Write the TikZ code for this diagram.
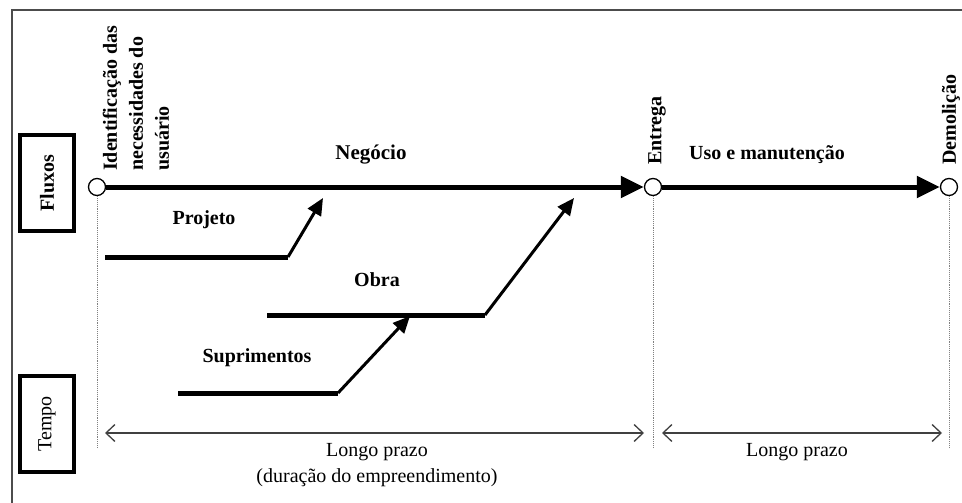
\documentclass[tikz,border=0pt]{standalone}
\usepackage{fontspec}
\setmainfont{Liberation Serif}
\usetikzlibrary{arrows.meta}

\tikzset{
  milestone/.style={circle, draw=black, line width=1.3pt, fill=white, minimum size=17pt, inner sep=0pt},
  mainflow/.style={line width=5pt, -{Triangle[length=23pt,width=21pt]}, shorten <=-0.5pt},
  flowbar/.style={line width=5pt},
  feeder/.style={line width=3pt, -{Triangle[length=17pt,width=15pt]}},
  guide/.style={gray, densely dotted, line width=0.9pt},
  span/.style={line width=1.3pt, black!75, {Straight Barb[length=9pt,width=17pt]}-{Straight Barb[length=9pt,width=17pt]}},
  sidebox/.style={draw=black, line width=3.5pt, rotate=90, minimum width=96pt, minimum height=54pt, inner sep=0pt},
  boldlabel/.style={font=\fontsize{20}{24}\selectfont\bfseries, inner sep=0pt},
  vlabel/.style={font=\fontsize{20}{26}\selectfont\bfseries, rotate=90, anchor=west, align=left, inner sep=0pt},
  plainlabel/.style={font=\fontsize{20}{26}\selectfont, align=center, inner sep=0pt}
}

\begin{document}
\begin{tikzpicture}[x=1pt, y=-1pt]
  \useasboundingbox (0,0) rectangle (962,503);

  % outer frame
  \draw[black!70, line width=2pt] (12,503) -- (12,10) -- (962,10);

  % side boxes
  \node[sidebox, font=\fontsize{20}{24}\selectfont\bfseries] (fluxos) at (47,183) {Fluxos};
  \node[sidebox, font=\fontsize{20}{24}\selectfont] (tempo) at (47,424) {Tempo};

  % milestones
  \node[milestone] (c1) at (97,187) {};
  \node[milestone] (c2) at (653,187) {};
  \node[milestone] (c3) at (949,187) {};

  % vertical guides
  \coordinate (g1) at (97,447);
  \coordinate (g2) at (653,447);
  \coordinate (g3) at (949,447);
  \draw[guide] (c1.south) -- (g1);
  \draw[guide] (c2.south) -- (g2);
  \draw[guide] (c3.south) -- (g3);

  % main flows
  \draw[mainflow] (c1.east) -- (c2.west);
  \draw[mainflow] (c2.east) -- (c3.west);

  % milestone labels
  \node[vlabel] (ident) at (136,171) {Identificação das\\necessidades do\\usuário};
  \node[vlabel] (entrega) at (657,165) {Entrega};
  \node[vlabel] (demol) at (951,165) {Demolição};

  % flow labels
  \node[boldlabel, font=\fontsize{21}{24}\selectfont\bfseries] (negocio) at (371,155) {Negócio};
  \node[boldlabel] (uso) at (767,155) {Uso e manutenção};

  % Projeto
  \coordinate (p0) at (105,257);
  \coordinate (p1) at (288,257);
  \coordinate (p2) at (323,198);
  \draw[flowbar] (p0) -- (p1);
  \draw[feeder] (p1) -- (p2);
  \node[boldlabel] (projeto) at (204,220) {Projeto};

  % Obra
  \coordinate (o0) at (267,315);
  \coordinate (o1) at (485,315);
  \coordinate (o2) at (574,198);
  \draw[flowbar] (o0) -- (o1);
  \draw[feeder] (o1) -- (o2);
  \node[boldlabel] (obra) at (377,280) {Obra};

  % Suprimentos
  \coordinate (s0) at (178,393);
  \coordinate (s1) at (338,393);
  \coordinate (s2) at (410,316);
  \draw[flowbar] (s0) -- (s1);
  \draw[feeder] (s1) -- (s2);
  \node[boldlabel] (supr) at (257,358) {Suprimentos};

  % time spans
  \coordinate (a0) at (105,433);
  \coordinate (a1) at (644,433);
  \coordinate (b0) at (662,433);
  \coordinate (b1) at (942,433);
  \draw[span] (a0) -- (a1);
  \draw[span] (b0) -- (b1);
  \node[plainlabel] (lp1) at (377,465) {Longo prazo\\(duração do empreendimento)};
  \node[plainlabel] (lp2) at (797,452) {Longo prazo};
\end{tikzpicture}
\end{document}
